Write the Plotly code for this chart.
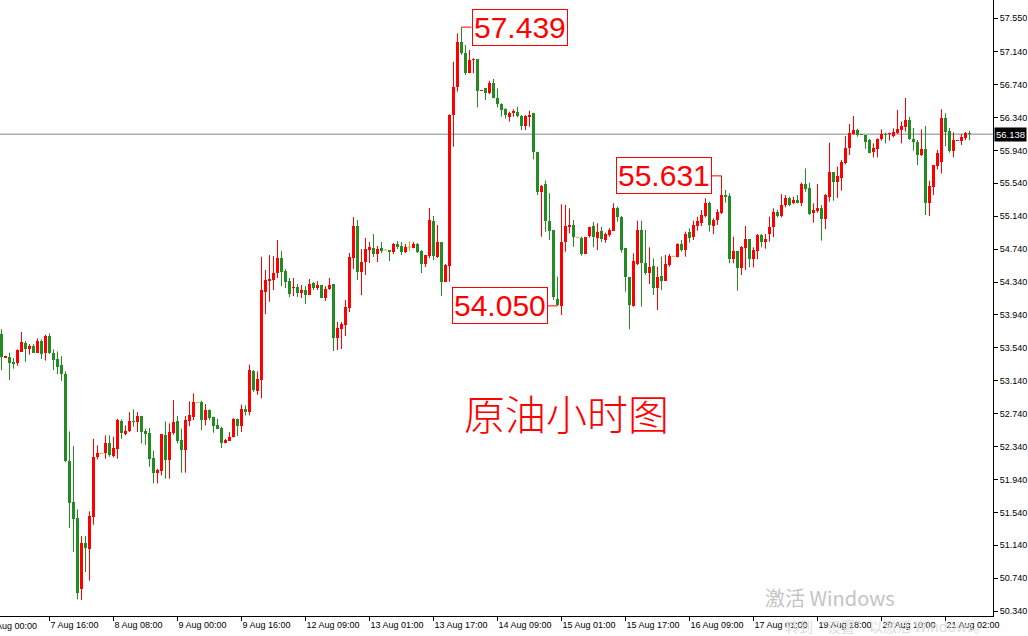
import plotly.graph_objects as go

# ---------------- data (hourly crude oil candles) ----------------
opens = [
    53.708, 53.420, 53.428, 53.371, 53.359, 53.493, 53.598, 53.529, 53.562, 53.481,
    53.623, 53.473, 53.683, 53.473, 53.400, 53.327, 53.221, 52.160, 51.665, 51.471,
    50.603, 51.163, 51.098, 51.487, 52.216, 52.257, 52.265, 52.378, 52.224, 52.314,
    52.654, 52.492, 52.524, 52.654, 52.638, 52.711, 52.532, 52.508, 52.200, 52.022,
    52.046, 52.476, 52.176, 52.508, 52.646, 52.419, 52.297, 52.654, 52.703, 52.877,
    52.881, 52.662, 52.784, 52.694, 52.597, 52.565, 52.386, 52.411, 52.459, 52.678,
    52.589, 52.800, 52.759, 53.262, 53.019, 53.149, 54.222, 54.352, 54.364, 54.449,
    54.632, 54.474, 54.352, 54.267, 54.279, 54.206, 54.243, 54.182, 54.328, 54.267,
    54.304, 54.145, 54.255, 54.316, 53.659, 53.769, 53.817, 54.024, 54.632, 55.021,
    54.462, 54.583, 54.729, 54.753, 54.680, 54.753, 54.729, 54.729, 54.705, 54.802,
    54.778, 54.705, 54.766, 54.753, 54.802, 54.717, 54.559, 54.656, 55.082, 54.644,
    54.826, 54.340, 54.539, 56.371, 56.716, 57.263, 57.121, 56.886, 57.036, 57.052,
    56.663, 56.695, 56.634, 56.764, 56.574, 56.501, 56.440, 56.343, 56.399, 56.411,
    56.359, 56.237, 56.343, 56.399, 55.925, 55.439, 55.528, 55.082, 54.973, 54.130,
    54.049, 54.831, 55.013, 55.033, 54.884, 54.876, 54.681, 54.896, 55.017, 54.872,
    54.957, 54.851, 54.912, 54.965, 55.236, 55.127, 54.750, 54.397, 54.049, 54.559,
    54.973, 54.568, 54.446, 54.535, 54.264, 54.414, 54.357, 54.547, 54.653, 54.649,
    54.803, 54.730, 54.953, 54.884, 55.021, 55.054, 55.143, 55.297, 55.026, 55.094,
    55.184, 55.394, 55.386, 54.620, 54.718, 54.515, 54.750, 54.860, 54.616, 54.722,
    54.912, 54.831, 54.924, 55.005, 55.196, 55.143, 55.272, 55.366, 55.297, 55.337,
    55.305, 55.532, 55.479, 55.183, 55.207, 55.244, 55.106, 55.378, 55.678, 55.556,
    55.609, 55.783, 55.973, 56.140, 56.188, 56.140, 56.123, 56.067, 55.921, 55.961,
    56.079, 56.144, 56.140, 56.115, 56.148, 56.188, 56.229, 56.310, 56.079, 56.047,
    55.884, 55.953, 55.305, 55.499, 55.751, 55.799, 56.334, 56.176, 55.933, 56.059,
    56.059, 56.095, 56.152,
]
highs = [
    53.765, 53.444, 53.481, 53.416, 53.521, 53.732, 53.623, 53.586, 53.586, 53.655,
    53.643, 53.700, 53.716, 53.521, 53.497, 53.440, 53.254, 52.524, 52.346, 51.576,
    51.252, 51.252, 51.552, 52.435, 52.354, 52.257, 52.476, 52.476, 52.459, 52.678,
    52.670, 52.597, 52.759, 52.792, 52.759, 52.711, 52.557, 52.565, 52.289, 52.070,
    52.492, 52.646, 52.622, 52.905, 52.711, 52.557, 52.711, 52.889, 52.986, 52.877,
    52.897, 52.857, 52.792, 52.703, 52.678, 52.581, 52.435, 52.516, 52.686, 52.678,
    52.849, 52.840, 53.335, 53.270, 53.254, 54.648, 54.486, 54.668, 54.656, 54.851,
    54.717, 54.498, 54.389, 54.389, 54.316, 54.304, 54.291, 54.377, 54.340, 54.352,
    54.304, 54.291, 54.389, 54.316, 53.854, 53.854, 54.121, 54.693, 55.130, 55.094,
    54.741, 54.875, 54.826, 54.924, 54.778, 54.826, 54.729, 54.729, 54.814, 54.838,
    54.826, 54.802, 54.838, 54.826, 54.814, 54.729, 54.668, 55.240, 55.143, 55.033,
    54.826, 54.559, 56.380, 57.019, 57.364, 57.439, 57.222, 57.161, 57.060, 57.052,
    56.671, 56.695, 56.788, 56.809, 56.695, 56.513, 56.452, 56.411, 56.440, 56.472,
    56.371, 56.371, 56.424, 56.399, 55.925, 55.520, 55.573, 55.419, 54.973, 54.405,
    55.285, 55.277, 55.236, 55.094, 54.884, 54.892, 54.884, 55.013, 55.070, 55.054,
    55.013, 54.941, 54.993, 55.297, 55.257, 55.143, 54.750, 54.397, 54.689, 55.086,
    55.086, 54.973, 54.762, 54.628, 54.527, 54.649, 54.669, 54.681, 54.653, 54.811,
    54.851, 54.953, 54.993, 55.086, 55.135, 55.216, 55.358, 55.317, 55.115, 55.224,
    55.467, 55.459, 55.418, 54.892, 54.718, 54.778, 55.021, 54.860, 54.762, 54.924,
    54.924, 54.924, 55.135, 55.236, 55.216, 55.410, 55.398, 55.378, 55.378, 55.398,
    55.548, 55.722, 55.548, 55.297, 55.532, 55.276, 55.410, 56.034, 55.678, 55.743,
    55.823, 56.115, 56.261, 56.358, 56.204, 56.140, 56.123, 56.079, 56.026, 56.087,
    56.196, 56.156, 56.156, 56.208, 56.431, 56.290, 56.578, 56.350, 56.213, 56.067,
    56.196, 56.237, 55.572, 55.763, 55.945, 56.440, 56.391, 56.213, 56.160, 56.067,
    56.140, 56.164, 56.180,
]
lows = [
    53.270, 53.416, 53.148, 53.286, 53.323, 53.493, 53.371, 53.457, 53.481, 53.481,
    53.404, 53.384, 53.465, 53.270, 53.221, 53.140, 52.151, 51.349, 51.057, 50.482,
    50.474, 50.814, 50.709, 51.390, 52.184, 52.257, 52.192, 52.216, 52.208, 52.192,
    52.435, 52.476, 52.516, 52.581, 52.516, 52.378, 52.362, 52.095, 51.892, 51.892,
    51.989, 51.949, 51.949, 52.484, 52.378, 52.022, 52.022, 52.589, 52.662, 52.877,
    52.540, 52.597, 52.662, 52.508, 52.557, 52.322, 52.378, 52.411, 52.451, 52.468,
    52.516, 52.719, 52.719, 53.002, 52.970, 52.926, 53.951, 54.101, 54.243, 54.389,
    54.291, 54.267, 54.158, 54.170, 54.158, 54.145, 54.073, 54.182, 54.243, 54.243,
    54.145, 54.109, 54.243, 53.501, 53.513, 53.525, 53.683, 53.975, 54.498, 54.364,
    54.182, 54.425, 54.571, 54.644, 54.583, 54.693, 54.729, 54.595, 54.680, 54.741,
    54.668, 54.693, 54.717, 54.753, 54.693, 54.449, 54.523, 54.632, 54.608, 54.632,
    54.170, 54.340, 54.344, 55.986, 56.655, 57.100, 56.857, 56.878, 56.878, 56.464,
    56.663, 56.553, 56.626, 56.574, 56.464, 56.351, 56.330, 56.290, 56.351, 56.343,
    56.189, 56.189, 56.229, 55.832, 55.398, 54.892, 54.952, 54.851, 54.122, 54.050,
    53.939, 54.709, 54.932, 54.770, 54.884, 54.661, 54.681, 54.880, 54.762, 54.730,
    54.827, 54.819, 54.892, 54.965, 55.074, 54.697, 54.223, 53.765, 54.041, 54.547,
    54.041, 54.426, 54.316, 54.183, 53.999, 54.243, 54.357, 54.527, 54.653, 54.640,
    54.709, 54.649, 54.819, 54.851, 54.965, 55.021, 55.127, 54.953, 54.924, 55.034,
    55.167, 55.305, 54.568, 54.568, 54.235, 54.426, 54.486, 54.519, 54.519, 54.616,
    54.762, 54.746, 54.831, 54.884, 55.127, 55.126, 55.248, 55.264, 55.288, 55.297,
    55.264, 55.439, 55.155, 55.062, 55.183, 54.843, 54.985, 55.317, 55.329, 55.361,
    55.451, 55.771, 55.884, 56.132, 56.107, 56.132, 55.961, 55.905, 55.856, 55.856,
    56.059, 56.026, 56.059, 56.099, 56.140, 56.026, 56.168, 56.067, 55.937, 55.763,
    55.872, 55.155, 55.143, 55.398, 55.710, 55.661, 55.994, 55.913, 55.856, 56.059,
    56.006, 56.067, 56.067,
]
closes = [
    53.432, 53.440, 53.359, 53.347, 53.513, 53.610, 53.529, 53.562, 53.481, 53.623,
    53.469, 53.683, 53.481, 53.392, 53.311, 53.217, 52.160, 51.657, 51.462, 50.563,
    51.163, 51.106, 51.495, 52.208, 52.257, 52.257, 52.378, 52.240, 52.322, 52.662,
    52.500, 52.524, 52.646, 52.642, 52.711, 52.516, 52.492, 52.192, 52.022, 52.054,
    52.492, 52.176, 52.516, 52.638, 52.411, 52.297, 52.662, 52.719, 52.881, 52.877,
    52.662, 52.784, 52.686, 52.589, 52.557, 52.386, 52.419, 52.459, 52.678, 52.589,
    52.800, 52.759, 53.270, 53.027, 53.157, 54.243, 54.364, 54.377, 54.449, 54.632,
    54.462, 54.340, 54.194, 54.279, 54.206, 54.243, 54.182, 54.316, 54.267, 54.304,
    54.145, 54.255, 54.304, 53.659, 53.781, 53.829, 54.036, 54.644, 55.021, 54.462,
    54.583, 54.741, 54.766, 54.680, 54.741, 54.717, 54.729, 54.705, 54.802, 54.766,
    54.705, 54.766, 54.766, 54.802, 54.705, 54.559, 54.668, 55.094, 54.656, 54.826,
    54.340, 54.547, 56.371, 56.716, 57.263, 57.121, 56.886, 57.040, 57.052, 56.667,
    56.671, 56.634, 56.764, 56.574, 56.501, 56.432, 56.371, 56.391, 56.424, 56.359,
    56.237, 56.363, 56.371, 55.925, 55.439, 55.512, 55.082, 54.961, 54.162, 54.055,
    54.831, 55.021, 55.033, 54.884, 54.884, 54.677, 54.884, 55.005, 54.884, 54.953,
    54.868, 54.924, 54.973, 55.236, 55.127, 54.730, 54.397, 54.061, 54.596, 54.973,
    54.568, 54.446, 54.519, 54.264, 54.405, 54.357, 54.559, 54.657, 54.653, 54.803,
    54.730, 54.924, 54.880, 55.034, 55.086, 55.155, 55.297, 55.034, 55.094, 55.196,
    55.398, 55.378, 54.620, 54.718, 54.515, 54.762, 54.860, 54.620, 54.730, 54.912,
    54.831, 54.863, 55.013, 55.196, 55.143, 55.272, 55.366, 55.276, 55.337, 55.305,
    55.532, 55.467, 55.167, 55.216, 55.240, 55.106, 55.398, 55.678, 55.556, 55.629,
    55.803, 55.973, 56.156, 56.188, 56.123, 56.132, 56.042, 55.913, 55.965, 56.079,
    56.140, 56.123, 56.144, 56.164, 56.196, 56.237, 56.310, 56.079, 56.047, 55.884,
    55.953, 55.305, 55.507, 55.763, 55.913, 56.334, 56.168, 55.933, 56.067, 56.067,
    56.099, 56.148, 56.138,
]

# x-axis time labels: bar index of each label and its text
time_tick_index = [-4, 12, 28, 44, 60, 76, 92, 108, 124, 140, 156, 172, 188, 204, 220, 236]
time_tick_text = ["7 Aug 00:00", "7 Aug 16:00", "8 Aug 08:00", "9 Aug 00:00", "9 Aug 16:00",
                  "12 Aug 09:00", "13 Aug 01:00", "13 Aug 17:00", "14 Aug 09:00",
                  "15 Aug 01:00", "15 Aug 17:00", "16 Aug 09:00", "17 Aug 01:00",
                  "19 Aug 18:00", "20 Aug 10:00", "21 Aug 02:00"]

# price axis labels
price_ticks = [57.550, 57.140, 56.740, 56.340, 55.940, 55.540, 55.140, 54.740, 54.340, 53.940,
               53.540, 53.140, 52.740, 52.340, 51.940, 51.540, 51.140, 50.740, 50.340]

current_price = 56.138

# marked extremes: (bar index, value, side of the label)
marked_index = [115, 139, 180]
marked_value = [57.439, 54.050, 55.631]
marked_side = ["right", "left", "left"]

title_text = "原油小时图"

# ---------------- figure ----------------
n = len(opens)
assert len(highs) == n and len(lows) == n and len(closes) == n

PLOT_W, PLOT_H = 993, 616
BAR_PX = 4.0
xmin = -0.375
xmax = xmin + PLOT_W / BAR_PX
ymin, ymax = 50.280, 57.769
one_px = (ymax - ymin) / PLOT_H

RED = "#FF0000"
GREEN = "#228B22"
DOJI = "#DAA520"
AXFONT = "Liberation Sans, Arial"

idx = list(range(n))
up = [i for i in idx if closes[i] > opens[i]]
dn = [i for i in idx if closes[i] < opens[i]]
dj = [i for i in idx if closes[i] == opens[i]]


def wicks(ids):
    xs, ys = [], []
    for i in ids:
        xs += [i, i, None]
        ys += [lows[i], highs[i], None]
    return xs, ys


fig = go.Figure()

for ids, col in ((up, RED), (dn, GREEN), (dj, DOJI)):
    wx, wy = wicks(ids)
    fig.add_trace(go.Scatter(x=wx, y=wy, mode="lines", line=dict(color=col, width=1),
                             hoverinfo="skip", showlegend=False))

for ids, col in ((up, RED), (dn, GREEN)):
    fig.add_trace(go.Bar(
        x=ids,
        base=[min(opens[i], closes[i]) for i in ids],
        y=[max(abs(closes[i] - opens[i]), one_px) for i in ids],
        width=0.75, marker=dict(color=col, line=dict(width=0)),
        hoverinfo="skip", showlegend=False))

# doji dashes
dx, dy = [], []
for i in dj:
    dx += [i - 0.45, i + 0.45, None]
    dy += [opens[i], opens[i], None]
fig.add_trace(go.Scatter(x=dx, y=dy, mode="lines", line=dict(color=DOJI, width=1),
                         hoverinfo="skip", showlegend=False))

shapes = []
annotations = []

# current price line
shapes.append(dict(type="line", xref="paper", x0=0, x1=1, yref="y",
                   y0=current_price, y1=current_price,
                   line=dict(color="#7C8794", width=1), layer="below"))
annotations.append(dict(xref="paper", x=1, xanchor="left", xshift=1, yref="y", y=current_price,
                        text=f"{current_price:.3f}", showarrow=False,
                        font=dict(family=AXFONT, size=9.5, color="white"),
                        bgcolor="black", borderpad=1))

# marked value labels with connectors
GAP = 10
for i, v, side in zip(marked_index, marked_value, marked_side):
    sgn = 1 if side == "right" else -1
    tip = highs[i] if v >= highs[i] else (lows[i] if v <= lows[i] else highs[i])
    shapes.append(dict(type="line", xref="x", x0=i, x1=i, yref="y", y0=tip, y1=v,
                       line=dict(color=RED, width=1)))
    shapes.append(dict(type="line", xref="x", xsizemode="pixel", xanchor=i, x0=0, x1=sgn * GAP,
                       yref="y", y0=v, y1=v, line=dict(color=RED, width=1)))
    annotations.append(dict(xref="x", x=i, yref="y", y=v, xshift=sgn * GAP,
                            xanchor="left" if sgn > 0 else "right", yanchor="middle",
                            text=f"{v:.3f}", showarrow=False,
                            font=dict(family=AXFONT, size=30, color=RED),
                            bgcolor="white", bordercolor=RED, borderwidth=1, borderpad=1))

# chart title (Chinese)
annotations.append(dict(xref="paper", yref="paper", x=0.570, y=0.323, yshift=-27,
                        text=title_text, showarrow=False,
                        font=dict(family="Noto Sans CJK SC", size=41, color=RED, weight=300)))

# label for the first (partly cut) time tick, outside the axis range
first_frac = (time_tick_index[0] - xmin) / (xmax - xmin)
annotations.append(dict(xref="paper", yref="paper", x=first_frac, y=0, xanchor="left",
                        yanchor="top", yshift=-3, xshift=1, text=time_tick_text[0],
                        showarrow=False,
                        font=dict(family=AXFONT, size=9, color="black")))

# Windows activation watermark seen on the screenshot
annotations.append(dict(xref="paper", yref="paper", x=763 / PLOT_W, y=0.028, yshift=-15,
                        xanchor="left", text="激活 Windows", showarrow=False,
                        font=dict(family="Noto Sans CJK SC", size=20, color="#C4C4C4")))
annotations.append(dict(xref="paper", yref="paper", x=783 / PLOT_W, y=0.0, yshift=2,
                        xanchor="left", yanchor="top", text="转到“设置”以激活 Windows。",
                        showarrow=False,
                        font=dict(family="Noto Sans CJK SC", size=14, color="#DCDCDC")))

fig.update_layout(
    width=1028, height=636,
    margin=dict(l=0, r=35, t=0, b=20, pad=0, autoexpand=False),
    paper_bgcolor="white", plot_bgcolor="white",
    showlegend=False, hovermode=False, bargap=0,
    shapes=shapes, annotations=annotations,
    xaxis=dict(range=[xmin, xmax], showgrid=False, zeroline=False, automargin=False,
               showline=True, linecolor="black", linewidth=1,
               tickmode="array", tickvals=time_tick_index[1:], ticktext=time_tick_text[1:],
               ticks="outside", ticklen=4, tickcolor="black", tickwidth=1,
               ticklabelposition="outside right",
               tickfont=dict(family=AXFONT, size=9, color="black"),
               fixedrange=True),
    yaxis=dict(range=[ymin, ymax], side="right", showgrid=False, zeroline=False, automargin=False,
               showline=True, linecolor="black", linewidth=1,
               tickmode="array", tickvals=price_ticks,
               ticktext=[f"{p:.3f}" for p in price_ticks],
               ticks="outside", ticklen=4, tickcolor="black", tickwidth=1,
               tickfont=dict(family=AXFONT, size=9, color="black"),
               fixedrange=True),
)

fig.write_html("out.html", config={"displayModeBar": False, "staticPlot": True},
               post_script="document.body.style.margin='0';document.body.style.overflow='hidden';")
